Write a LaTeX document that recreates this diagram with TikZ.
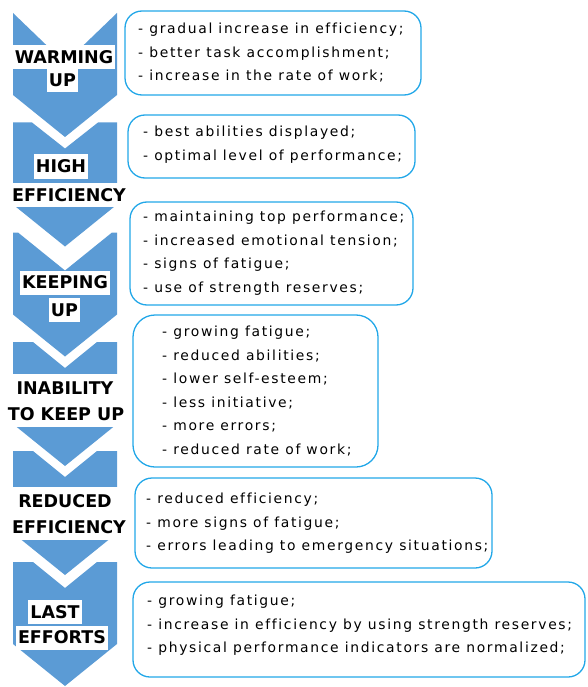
\documentclass[tikz,border=0pt]{standalone}
\usepackage{fontspec}
\setmainfont{DejaVu Sans}
\newfontfamily\infofont[LetterSpace=12,Ligatures=NoCommon]{DejaVu Sans}
\definecolor{chevblue}{HTML}{5B9BD5}
\definecolor{boxblue}{HTML}{22A7E8}
\tikzset{
  chevfill/.style={fill=chevblue, draw=none},
  lbl/.style={fill=white, font=\fontsize{17.5}{20}\selectfont\bfseries, inner xsep=2pt, inner ysep=0pt,
              text height=12.8pt, text depth=0pt, minimum height=24pt},
  infobox/.style={draw=boxblue, line width=1.3pt, rounded corners=17pt, inner sep=0pt},
  info/.style={anchor=west, align=left, font=\infofont\fontsize{13.9}{23.5}\selectfont, inner sep=0pt},
}
\newcommand\drawchev[3]{%
  \fill[chevfill] (13,#1) -- ({13+#2},#1) -- (65,{#1+#3}) -- ({117-#2},#1) -- (117,#1)
    -- (117,{#1+82}) -- (65,{#1+124}) -- (13,{#1+82}) -- cycle;}
\begin{document}
\begin{tikzpicture}[x=1pt,y=-1pt]
\useasboundingbox (0,0) rectangle (587,687);
% chevrons
\drawchev{13}{0}{50}
\drawchev{122.5}{19}{26}
\drawchev{232.5}{5}{38}
\drawchev{342}{20}{26}
\drawchev{451}{20}{26}
\drawchev{562}{20}{26}
% stage labels
\node[lbl] (w1) at (64,57.5) {WARMING};
\node[lbl] (w2) at (62.5,80) {UP};
\node[lbl] (h1) at (61,166.5) {HIGH};
\node[lbl] (h2) at (69,195) {EFFICIENCY};
\node[lbl] (k1) at (65,282.5) {KEEPING};
\node[lbl] (k2) at (64.5,310) {UP};
\node[lbl, minimum width=110pt, minimum height=29pt] (i1) at (65,388.5) {INABILITY};
\node[lbl, minimum height=25pt] (i2) at (66,414.5) {TO KEEP UP};
\node[lbl, minimum width=110pt, minimum height=28pt] (r1) at (65,501) {REDUCED};
\node[lbl, minimum height=25pt] (r2) at (69,527) {EFFICIENCY};
\node[lbl] (a1) at (55,612) {LAST};
\node[lbl] (a2) at (62,637.5) {EFFORTS};
% description boxes
\node[infobox, minimum width=296pt, minimum height=84pt] (b1) at (273,53) {};
\node[infobox, minimum width=287pt, minimum height=63pt] (b2) at (271.5,146.5) {};
\node[infobox, minimum width=283pt, minimum height=103pt] (b3) at (271.5,253.5) {};
\node[infobox, minimum width=245pt, minimum height=152pt, rounded corners=22pt] (b4) at (255.5,391) {};
\node[infobox, minimum width=357pt, minimum height=90pt] (b5) at (313.5,523) {};
\node[infobox, minimum width=452pt, minimum height=95pt] (b6) at (359,629.5) {};
% description texts
\node[info] (t1) at (138,53) {- gradual increase in efficiency;\\- better task accomplishment;\\- increase in the rate of work;};
\node[info] (t2) at (143,144.5) {- best abilities displayed;\\- optimal level of performance;};
\node[info] (t3) at (143,253) {- maintaining top performance;\\- increased emotional tension;\\- signs of fatigue;\\- use of strength reserves;};
\node[info] (t4) at (162,391) {- growing fatigue;\\- reduced abilities;\\- lower self-esteem;\\- less initiative;\\- more errors;\\- reduced rate of work;};
\node[info] (t5) at (146,523.5) {- reduced efficiency;\\- more signs of fatigue;\\- errors leading to emergency situations;};
\node[info] (t6) at (147,625.5) {- growing fatigue;\\- increase in efficiency by using strength reserves;\\- physical performance indicators are normalized;};
\end{tikzpicture}
\end{document}
